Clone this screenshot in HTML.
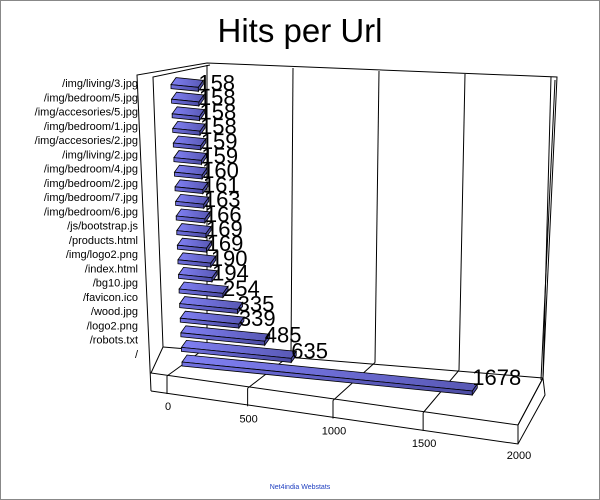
<!DOCTYPE html>
<html><head><meta charset="utf-8"><style>
body{margin:0;background:#fff}
#wrap{position:relative;width:600px;height:500px;overflow:hidden;border:0}
svg{position:absolute;left:0;top:0}
</style></head><body>
<div id="wrap">
<svg id="c" width="600" height="500" xmlns="http://www.w3.org/2000/svg" font-family="Liberation Sans, sans-serif">
<defs>
<linearGradient id="gTop" x1="0" y1="0" x2="1" y2="0"><stop offset="0" stop-color="#8080f4"/><stop offset="1" stop-color="#5858b4"/></linearGradient>
<linearGradient id="gFront" x1="0" y1="0" x2="1" y2="0"><stop offset="0" stop-color="#7070e0"/><stop offset="1" stop-color="#4c4ca4"/></linearGradient>
</defs>
<rect x="0.5" y="0.5" width="599" height="499" fill="#fff" stroke="#888"/>
<text x="300" y="42" font-size="33" text-anchor="middle" fill="#000">Hits per Url</text>
<text x="300" y="489" font-size="7" text-anchor="middle" fill="#2040c0">Net4india Webstats</text>
<g id="frame" stroke="#000" stroke-width="1" fill="none">
<polyline points="151,391 137,75 207,63 557,77 543,378"/>
<polyline points="163,347 153,77 210,65"/>
<polyline points="555,80 541,380"/>
<line x1="163" y1="347" x2="543" y2="378"/>
<polyline points="163,347 151,373 518,425 543,378"/>
<polyline points="151,391 518,444 545,395 543,378"/>
<line x1="518" y1="425" x2="518" y2="444"/>
</g>
<g id="grid"></g>
<g id="ylabels"></g>
<g id="xlabels"></g>
<g id="bars"></g>
</svg>
</div>
<script>
const categories = ["/","/robots.txt","/logo2.png","/wood.jpg","/favicon.ico","/bg10.jpg","/index.html","/img/logo2.png","/products.html","/js/bootstrap.js","/img/bedroom/6.jpg","/img/bedroom/7.jpg","/img/bedroom/2.jpg","/img/bedroom/4.jpg","/img/living/2.jpg","/img/accesories/2.jpg","/img/bedroom/1.jpg","/img/accesories/5.jpg","/img/bedroom/5.jpg","/img/living/3.jpg"];
const hits = [1678,635,485,339,335,254,194,190,169,169,166,163,161,160,159,159,158,158,158,158];
const tickValues = [0,500,1000,1500,2000];
const tickLabels = ["0","500","1000","1500","2000"];

const NS = "http://www.w3.org/2000/svg";
function mk(tag, attrs, parent){const e=document.createElementNS(NS,tag);for(const k in attrs)e.setAttribute(k,attrs[k]);parent.appendChild(e);return e;}
// axis functions (perspective approximated)
const frontTickX = v => 167 + v*0.1565 + v*v*0.0000095;
const frontTickY = v => 376 + v*0.0245;
const backBotX = v => 207 + v*0.168;
const backBotY = v => 347 + v*0.0155;
const backTopX = v => 207 + v*0.172;
const backTopY = v => 65 + v*0.006;
const barLeftX = i => 182 - 11*i/(categories.length-1);
const barFrontY = i => 362 - 14.6*i;
const valLen = v => v*0.173;
const labelY = k => 87 + 14.25*k;

const grid = document.getElementById('grid');
const xl = document.getElementById('xlabels');
tickValues.forEach((v,j)=>{
  const fx=frontTickX(v), fy=frontTickY(v);
  let l=mk('line',{x1:fx,y1:fy,x2:backBotX(v),y2:backBotY(v),stroke:'#000'},grid);
  
  
  let w=mk('line',{x1:backBotX(v),y1:backBotY(v),x2:backTopX(v),y2:backTopY(v),stroke:'#000'},grid);
  
  
  let t=mk('line',{x1:fx,y1:fy,x2:fx,y2:fy+18,stroke:'#000'},grid);
  
  
  let tx=mk('text',{x:fx+1,y:fy+34,'font-size':11,'text-anchor':'middle',fill:'#000'},xl);
  tx.textContent=tickLabels[j];
  
  
});
const yl=document.getElementById('ylabels');
const n=categories.length;
categories.forEach((c,i)=>{
  const k=n-1-i;
  let t=mk('text',{x:138,y:labelY(k),'font-size':11,'text-anchor':'end',fill:'#000'},yl);
  t.textContent=c;
  
  
});
const bars=document.getElementById('bars');
const dx=5, dy=-7, th=4, slope=0.1;
for(let i=n-1;i>=0;i--){
  const v=hits[i];
  const x0=barLeftX(i), y0=barFrontY(i);
  const L=valLen(v);
  const x1=x0+L, y1=y0+L*slope;
  const g=mk('g',{},bars);
  
  
  mk('polygon',{points:`${x0},${y0} ${x1},${y1} ${x1+dx},${y1+dy} ${x0+dx},${y0+dy}`,fill:'url(#gTop)',stroke:'#000','stroke-width':0.8},g);
  mk('polygon',{points:`${x0},${y0} ${x1},${y1} ${x1},${y1+th} ${x0},${y0+th}`,fill:'url(#gFront)',stroke:'#000','stroke-width':0.8},g);
  mk('polygon',{points:`${x1},${y1} ${x1+dx},${y1+dy} ${x1+dx},${y1+dy+th} ${x1},${y1+th}`,fill:'#5050a8',stroke:'#000','stroke-width':0.8},g);
  const t=mk('text',{x:x1,y:y1+dy+11-L*0.035,'font-size':22,fill:'#000'},g);
  t.textContent=String(v);
  
  
}
</script>
</body></html>
